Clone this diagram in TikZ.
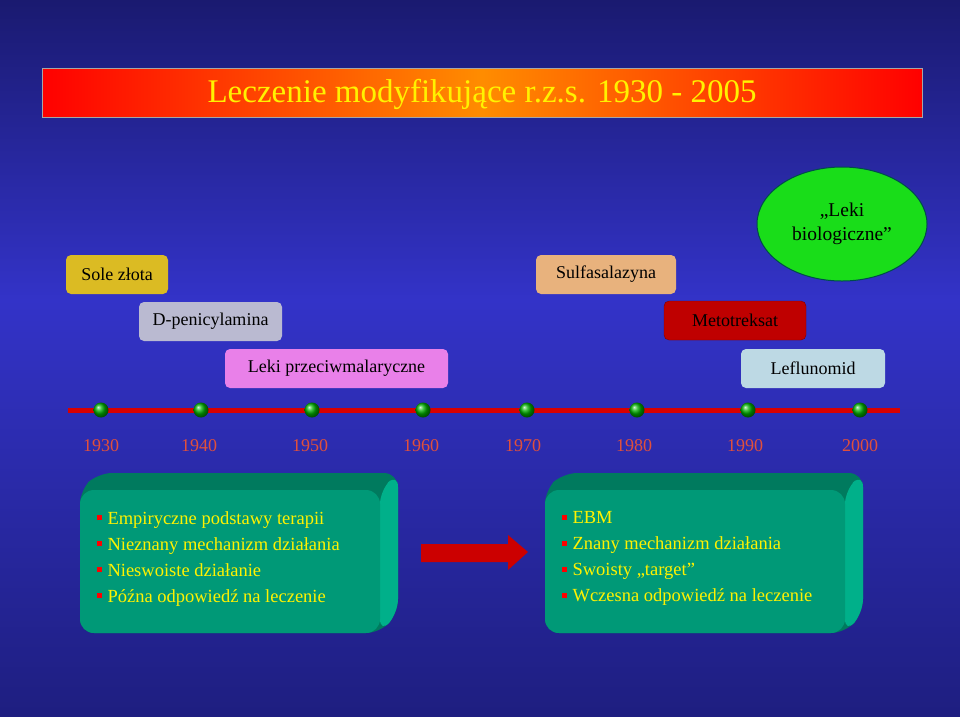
\documentclass[tikz,border=0pt]{standalone}
\usepackage{fontspec}
\setmainfont{Liberation Serif}
\usetikzlibrary{shapes.geometric}
\definecolor{bgtop}{HTML}{1A1A70}
\definecolor{bgmid}{HTML}{3333C8}
\definecolor{bgbot}{HTML}{1E1E80}
\definecolor{yr}{HTML}{E0503C}
\definecolor{boxg}{HTML}{009977}
\definecolor{boxgd}{HTML}{007A5E}
\definecolor{boxgl}{HTML}{00B08A}
\newcommand{\bsq}{\textcolor{red}{\rule[4pt]{5pt}{5pt}}\hspace{6pt}}
\begin{document}
\begin{tikzpicture}[x=1pt,y=-1pt,
  lab/.style={rounded corners=5pt,minimum height=39pt,font=\fontsize{18}{20}\selectfont,text=black,inner sep=0pt},
  yrl/.style={text=yr,font=\fontsize{18}{20}\selectfont},
  dot/.style={circle,minimum size=15pt,inner sep=0pt,ball color=green!70!black,draw=none},
  blt/.style={font=\fontsize{18.5}{26}\selectfont,text=yellow,align=left,anchor=north west}]
\useasboundingbox (0,0) rectangle (960,716);
\shade[top color=bgtop,bottom color=bgmid] (0,0) rectangle (960,300);
\shade[top color=bgmid,bottom color=bgbot] (0,300) rectangle (960,716);
% title
\shade[left color=red,right color=orange!90!yellow] (42,68) rectangle (482,117);
\shade[left color=orange!90!yellow,right color=red] (482,68) rectangle (922,117);
\draw[gray!70!white,line width=0.8pt] (42,68) rectangle (922,117);
\node[text=yellow,font=\fontsize{33}{36}\selectfont] (title) at (482,94) {Leczenie modyfikujące r.z.s. 1930 - 2005};
% labels
\node[lab,minimum width=102pt,fill=yellow!70!orange!85!black] (sole) at (117,274.5) {Sole złota};
\node[lab,minimum width=143pt,fill=blue!20!gray!45!white] (dpen) at (210.5,321.5) {D-penicylamina};
\node[lab,minimum width=223pt,fill=violet!35!magenta!50!white] (leki) at (336.5,368.5) {Leki przeciwmalaryczne};
\node[lab,minimum width=140pt,fill=orange!40!brown!60!white] (sulf) at (606,274.5) {Sulfasalazyna};
\node[lab,minimum width=142pt,fill=red!75!black,draw=red!50!black] (meto) at (735,320.5) {Metotreksat};
\node[lab,minimum width=144pt,fill=gray!55!cyan!40!white] (lefl) at (813,368.5) {Leflunomid};
\node[ellipse,minimum width=170pt,minimum height=114pt,fill=green!85!black!90!white,draw=teal!60!black,line width=1pt,align=center,font=\fontsize{19.5}{24}\selectfont] (bio) at (842,224) {,,Leki\\biologiczne''};
% timeline
\draw[red!85!black,line width=5pt] (68,410) coordinate (tl0) -- (900,410) coordinate (tl1);
\foreach \x/\n in {101/d1,201/d2,312/d3,423/d4,527/d5,637/d6,748/d7,860/d8}
  \node[dot] (\n) at (\x,410) {};
\foreach \x/\y in {101/1930,199/1940,310/1950,421/1960,523/1970,634/1980,745/1990,860/2000}
  \node[yrl] (y\y) at (\x,446) {\y};
% 3D boxes
\foreach \ox/\n in {80/L,545/R}{
  \fill[boxgd,rounded corners=14pt] (\ox+18,473) -- (\ox+318,473) -- (\ox+318,613) -- (\ox+300,633) -- (\ox,633) -- (\ox,490) -- cycle;
  \fill[boxgl,rounded corners=14pt] (\ox+300,490) -- (\ox+318,473) -- (\ox+318,613) -- (\ox+300,633) -- cycle;
  \fill[boxg,rounded corners=14pt] (\ox,490) rectangle (\ox+300,633);
}
\node[blt] (bl) at (93,508) {\bsq Empiryczne podstawy terapii\\\bsq Nieznany mechanizm działania\\\bsq Nieswoiste działanie\\\bsq Późna odpowiedź na leczenie};
\node[blt] (br) at (558,508) {\bsq EBM\\\bsq Znany mechanizm działania\\\bsq Swoisty ,,target''\\\bsq Wczesna odpowiedź na leczenie};
% arrow
\fill[red!80!black] (421,544) -- (508,544) -- (508,535) -- (528,552) -- (508,570) -- (508,562) -- (421,562) -- cycle;
\end{tikzpicture}
\end{document}
